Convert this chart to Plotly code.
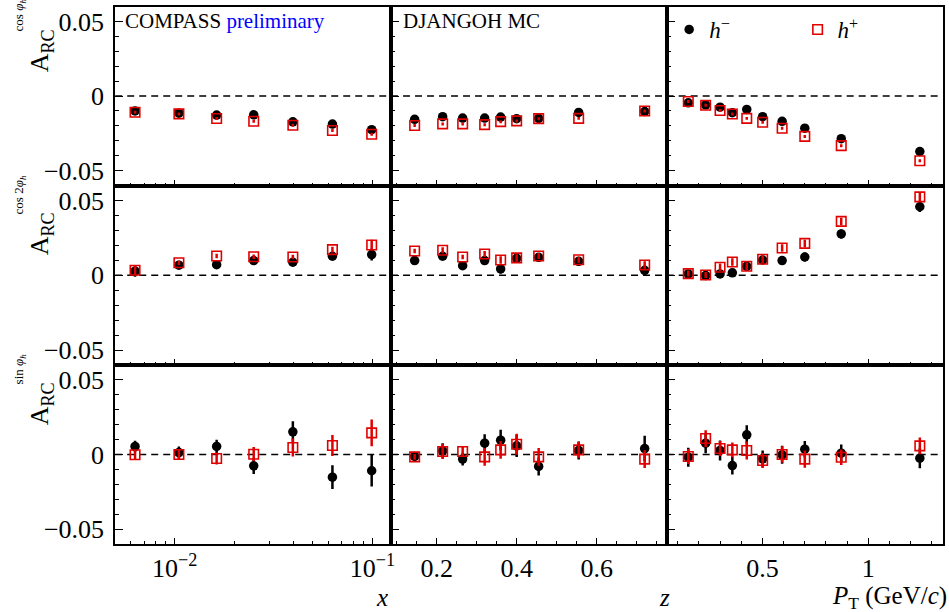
import numpy as np
import plotly.graph_objects as go
from plotly.subplots import make_subplots

# ---------------- data ----------------
x_bins = [0.0063, 0.0105, 0.0163, 0.0251, 0.0396, 0.0628, 0.0992]
z_bins = [0.145, 0.215, 0.265, 0.32, 0.36, 0.40, 0.455, 0.555, 0.72]
pt_bins = [0.150, 0.232, 0.300, 0.358, 0.426, 0.501, 0.593, 0.700, 0.872, 1.243]

# A_RC^{cos phi_h}
cos_x_hm = [-0.0100, -0.0115, -0.0128, -0.0126, -0.0173, -0.0188, -0.0226]
cos_x_hp = [-0.0109, -0.0120, -0.0151, -0.0169, -0.0196, -0.0231, -0.0256]
cos_z_hm = [-0.0156, -0.0139, -0.0148, -0.0148, -0.0141, -0.0152, -0.0150, -0.0110, -0.0104]
cos_z_hp = [-0.0198, -0.0187, -0.0187, -0.0192, -0.0172, -0.0167, -0.0152, -0.0150, -0.0101]
cos_pt_hm = [-0.0046, -0.0059, -0.0075, -0.0112, -0.0090, -0.0139, -0.0170, -0.0216, -0.0286, -0.0372]
cos_pt_hp = [-0.0037, -0.0062, -0.0097, -0.0121, -0.0150, -0.0176, -0.0216, -0.0271, -0.0333, -0.0434]
cos_x_hm_err = [0.001] * 7
cos_x_hp_err = [0.001] * 7
cos_z_hm_err = [0.001] * 9
cos_z_hp_err = [0.001] * 9
cos_pt_hm_err = [0.001] * 10
cos_pt_hp_err = [0.001] * 10

# A_RC^{cos 2phi_h}
cos2_x_hm = [0.0027, 0.0067, 0.0071, 0.0098, 0.0087, 0.0127, 0.0138]
cos2_x_hp = [0.0033, 0.0084, 0.0129, 0.0124, 0.0122, 0.0171, 0.0202]
cos2_z_hm = [0.0098, 0.0127, 0.0064, 0.0098, 0.0042, 0.0113, 0.0120, 0.0093, 0.0033]
cos2_z_hp = [0.0162, 0.0167, 0.0122, 0.0142, 0.0102, 0.0116, 0.0129, 0.0104, 0.0069]
cos2_pt_hm = [0.0009, -0.0002, 0.0009, 0.0016, 0.0060, 0.0102, 0.0098, 0.0122, 0.0276, 0.0458]
cos2_pt_hp = [0.0011, 0.0002, 0.0053, 0.0089, 0.0060, 0.0107, 0.0182, 0.0213, 0.0360, 0.0524]
cos2_x_hm_err = [0.0037, 0.0015, 0.0015, 0.0015, 0.0020, 0.0025, 0.0040]
cos2_x_hp_err = [0.0030, 0.0015, 0.0015, 0.0015, 0.0015, 0.0020, 0.0036]
cos2_z_hm_err = [0.0015, 0.0025, 0.0015, 0.0025, 0.0030, 0.0030, 0.0025, 0.0025, 0.0030]
cos2_z_hp_err = [0.0015, 0.0020, 0.0015, 0.0020, 0.0025, 0.0025, 0.0020, 0.0020, 0.0025]
cos2_pt_hm_err = [0.0020, 0.0020, 0.0025, 0.0025, 0.0025, 0.0025, 0.0025, 0.0030, 0.0030, 0.0035]
cos2_pt_hp_err = [0.0020, 0.0020, 0.0025, 0.0025, 0.0025, 0.0025, 0.0025, 0.0025, 0.0025, 0.0027]

# A_RC^{sin phi_h}
sin_x_hm = [0.0054, 0.0013, 0.0054, -0.0076, 0.0152, -0.0152, -0.0109]
sin_x_hp = [-0.0002, 0.0000, -0.0027, 0.0002, 0.0047, 0.0060, 0.0145]
sin_z_hm = [-0.0013, 0.0025, -0.0031, 0.0076, 0.0096, 0.0058, -0.0080, 0.0027, 0.0040]
sin_z_hp = [-0.0016, 0.0020, 0.0020, -0.0016, 0.0031, 0.0069, -0.0016, 0.0031, -0.0031]
sin_pt_hm = [-0.0018, 0.0076, 0.0027, -0.0074, 0.0132, -0.0029, -0.0002, 0.0036, 0.0009, -0.0025]
sin_pt_hp = [-0.0013, 0.0107, 0.0040, 0.0031, 0.0027, -0.0040, 0.0000, -0.0031, -0.0018, 0.0058]
sin_x_hm_err = [0.0038, 0.0040, 0.0045, 0.0054, 0.0071, 0.0080, 0.0105]
sin_x_hp_err = [0.0033, 0.0030, 0.0040, 0.0048, 0.0060, 0.0070, 0.0090]
sin_z_hm_err = [0.0020, 0.0050, 0.0042, 0.0060, 0.0070, 0.0075, 0.0060, 0.0060, 0.0085]
sin_z_hp_err = [0.0020, 0.0050, 0.0033, 0.0060, 0.0060, 0.0070, 0.0060, 0.0055, 0.0060]
sin_pt_hm_err = [0.0064, 0.0067, 0.0067, 0.0060, 0.0064, 0.0056, 0.0060, 0.0054, 0.0058, 0.0067]
sin_pt_hp_err = [0.0050, 0.0056, 0.0050, 0.0050, 0.0060, 0.0050, 0.0056, 0.0058, 0.0052, 0.0056]

bins = [x_bins, z_bins, pt_bins]
rows = [
    [(cos_x_hm, cos_x_hm_err, cos_x_hp, cos_x_hp_err),
     (cos_z_hm, cos_z_hm_err, cos_z_hp, cos_z_hp_err),
     (cos_pt_hm, cos_pt_hm_err, cos_pt_hp, cos_pt_hp_err)],
    [(cos2_x_hm, cos2_x_hm_err, cos2_x_hp, cos2_x_hp_err),
     (cos2_z_hm, cos2_z_hm_err, cos2_z_hp, cos2_z_hp_err),
     (cos2_pt_hm, cos2_pt_hm_err, cos2_pt_hp, cos2_pt_hp_err)],
    [(sin_x_hm, sin_x_hm_err, sin_x_hp, sin_x_hp_err),
     (sin_z_hm, sin_z_hm_err, sin_z_hp, sin_z_hp_err),
     (sin_pt_hm, sin_pt_hm_err, sin_pt_hp, sin_pt_hp_err)],
]

y_titles = ["cos <i>φ</i><sub><i>h</i></sub>", "cos 2<i>φ</i><sub><i>h</i></sub>", "sin <i>φ</i><sub><i>h</i></sub>"]
y_ticks = [-0.05, 0, 0.05]
y_ticktext = ["−0.05", "0", "0.05"]

# ---------------- figure ----------------
W, H = 949, 612
FONT = "Liberation Serif"
RED = "#e00000"

fig = make_subplots(rows=3, cols=3, horizontal_spacing=0, vertical_spacing=0)

X_DOM = [(115.7 / W, 392.7 / W), (392.7 / W, 669.5 / W), (669.5 / W, 946.7 / W)]
Y_PIX = [(6.5, 185.5), (185.5, 365.0), (365.0, 544.0)]
Y_DOM = [(1 - b / H, 1 - t / H) for t, b in Y_PIX]
X_RANGE = [[np.log10(0.005), np.log10(0.1243)], [0.086, 0.775], [0.048, 1.351]]

for r in range(3):
    for c in range(3):
        hm, hm_e, hp, hp_e = rows[r][c]
        first = (r == 0 and c == 2)
        fig.add_trace(go.Scatter(
            x=bins[c], y=hm, mode="markers", name="<i>h</i><sup>−</sup>",
            marker=dict(symbol="circle", size=9.5, color="black"),
            error_y=dict(type="data", array=hm_e, visible=True, color="black", thickness=2.5, width=0),
            showlegend=first, legend="legend"), row=r + 1, col=c + 1)
        fig.add_trace(go.Scatter(
            x=bins[c], y=hp, mode="markers", name="<i>h</i><sup>+</sup>",
            marker=dict(symbol="square-open", size=9.5, color=RED, line=dict(width=1.6, color=RED)),
            error_y=dict(type="data", array=hp_e, visible=True, color=RED, thickness=2.5, width=0),
            showlegend=first, legend="legend2"), row=r + 1, col=c + 1)

axis_common = dict(showline=True, linecolor="black", linewidth=1.8, mirror=True,
                   ticks="inside", tickcolor="black", tickwidth=1.3,
                   showgrid=False, zeroline=False,
                   tickfont=dict(family=FONT, size=26, color="black"))

for r in range(3):
    for c in range(3):
        n = r * 3 + c + 1
        sfx = "" if n == 1 else str(n)
        xa = "xaxis" + sfx
        ya = "yaxis" + sfx
        xkw = dict(axis_common, domain=X_DOM[c], range=X_RANGE[c], ticklen=6,
                   showticklabels=(r == 2), ticklabelstandoff=0)
        if c == 0:
            xkw.update(type="log", tickvals=[0.01, 0.1],
                       ticktext=["10<sup>−2</sup>", "10<sup>−1</sup>"],
                       minor=dict(tickvals=[0.005, 0.006, 0.007, 0.008, 0.009,
                                            0.02, 0.03, 0.04, 0.05, 0.06, 0.07, 0.08, 0.09],
                                  ticks="inside", ticklen=3, tickcolor="black", tickwidth=1.2))
        elif c == 1:
            xkw.update(tickvals=[0.2, 0.4, 0.6], ticktext=["0.2", "0.4", "0.6"],
                       minor=dict(tick0=0, dtick=0.05, ticks="inside", ticklen=3,
                                  tickcolor="black", tickwidth=1.2))
        else:
            xkw.update(tickvals=[0.5, 1.0], ticktext=["0.5", "1"],
                       minor=dict(tick0=0, dtick=0.1, ticks="inside", ticklen=3,
                                  tickcolor="black", tickwidth=1.2))
        ykw = dict(axis_common, domain=Y_DOM[r], range=[-0.06, 0.06], ticklen=8,
                   tickvals=y_ticks, ticktext=y_ticktext,
                   showticklabels=(c == 0), ticklabelstandoff=4,
                   minor=dict(tick0=0, dtick=0.01, ticks="inside", ticklen=4,
                              tickcolor="black", tickwidth=1.2))
        fig.layout[xa].update(xkw)
        fig.layout[ya].update(ykw)
        fig.add_shape(type="line", xref=f"x{sfx} domain", x0=0, x1=1,
                      yref=f"y{sfx}", y0=0, y1=0, layer="below",
                      line=dict(color="black", width=1.3, dash="7px,5px"))

ann = []
# panel labels
ann.append(dict(text="COMPASS <span style='color:#0000ff'>preliminary</span>",
                x=124 / W, y=1 - 21 / H, xref="paper", yref="paper",
                xanchor="left", yanchor="middle", showarrow=False,
                font=dict(family=FONT, size=21, color="black")))
ann.append(dict(text="DJANGOH MC", x=403 / W, y=1 - 21 / H, xref="paper", yref="paper",
                xanchor="left", yanchor="middle", showarrow=False,
                font=dict(family=FONT, size=21, color="black")))
# x-axis titles
for txt, xr in [("<i>x</i>", 392), ("<i>z</i>", 675), ("<i>P</i><sub>T</sub> (GeV/<i>c</i>)", 953)]:
    ann.append(dict(text=txt, x=xr / W, y=1 - 597 / H, xref="paper", yref="paper",
                    xanchor="right", yanchor="middle", showarrow=False,
                    font=dict(family=FONT, size=25, color="black")))
# y-axis titles
A_bottom = [74, 257, 427]
for r in range(3):
    ann.append(dict(text="A<sub>RC</sub>", x=41 / W, y=1 - A_bottom[r] / H,
                    xref="paper", yref="paper", xanchor="center", yanchor="bottom",
                    textangle=-90, showarrow=False,
                    font=dict(family=FONT, size=26, color="black")))
    ann.append(dict(text=y_titles[r], x=20 / W, y=1 - (A_bottom[r] - 41) / H,
                    xref="paper", yref="paper", xanchor="center", yanchor="bottom",
                    textangle=-90, showarrow=False,
                    font=dict(family=FONT, size=13, color="black")))

fig.update_layout(
    width=W, height=H, margin=dict(l=0, r=0, t=0, b=0),
    paper_bgcolor="white", plot_bgcolor="white",
    annotations=ann,
    legend=dict(x=672 / W, y=1 - 8 / H, xanchor="left", yanchor="top",
                bgcolor="rgba(0,0,0,0)", font=dict(family=FONT, size=23, color="black"),
                itemwidth=30),
    legend2=dict(x=801 / W, y=1 - 8 / H, xanchor="left", yanchor="top",
                 bgcolor="rgba(0,0,0,0)", font=dict(family=FONT, size=23, color="black"),
                 itemwidth=30),
)

fig.write_html("out.html")
